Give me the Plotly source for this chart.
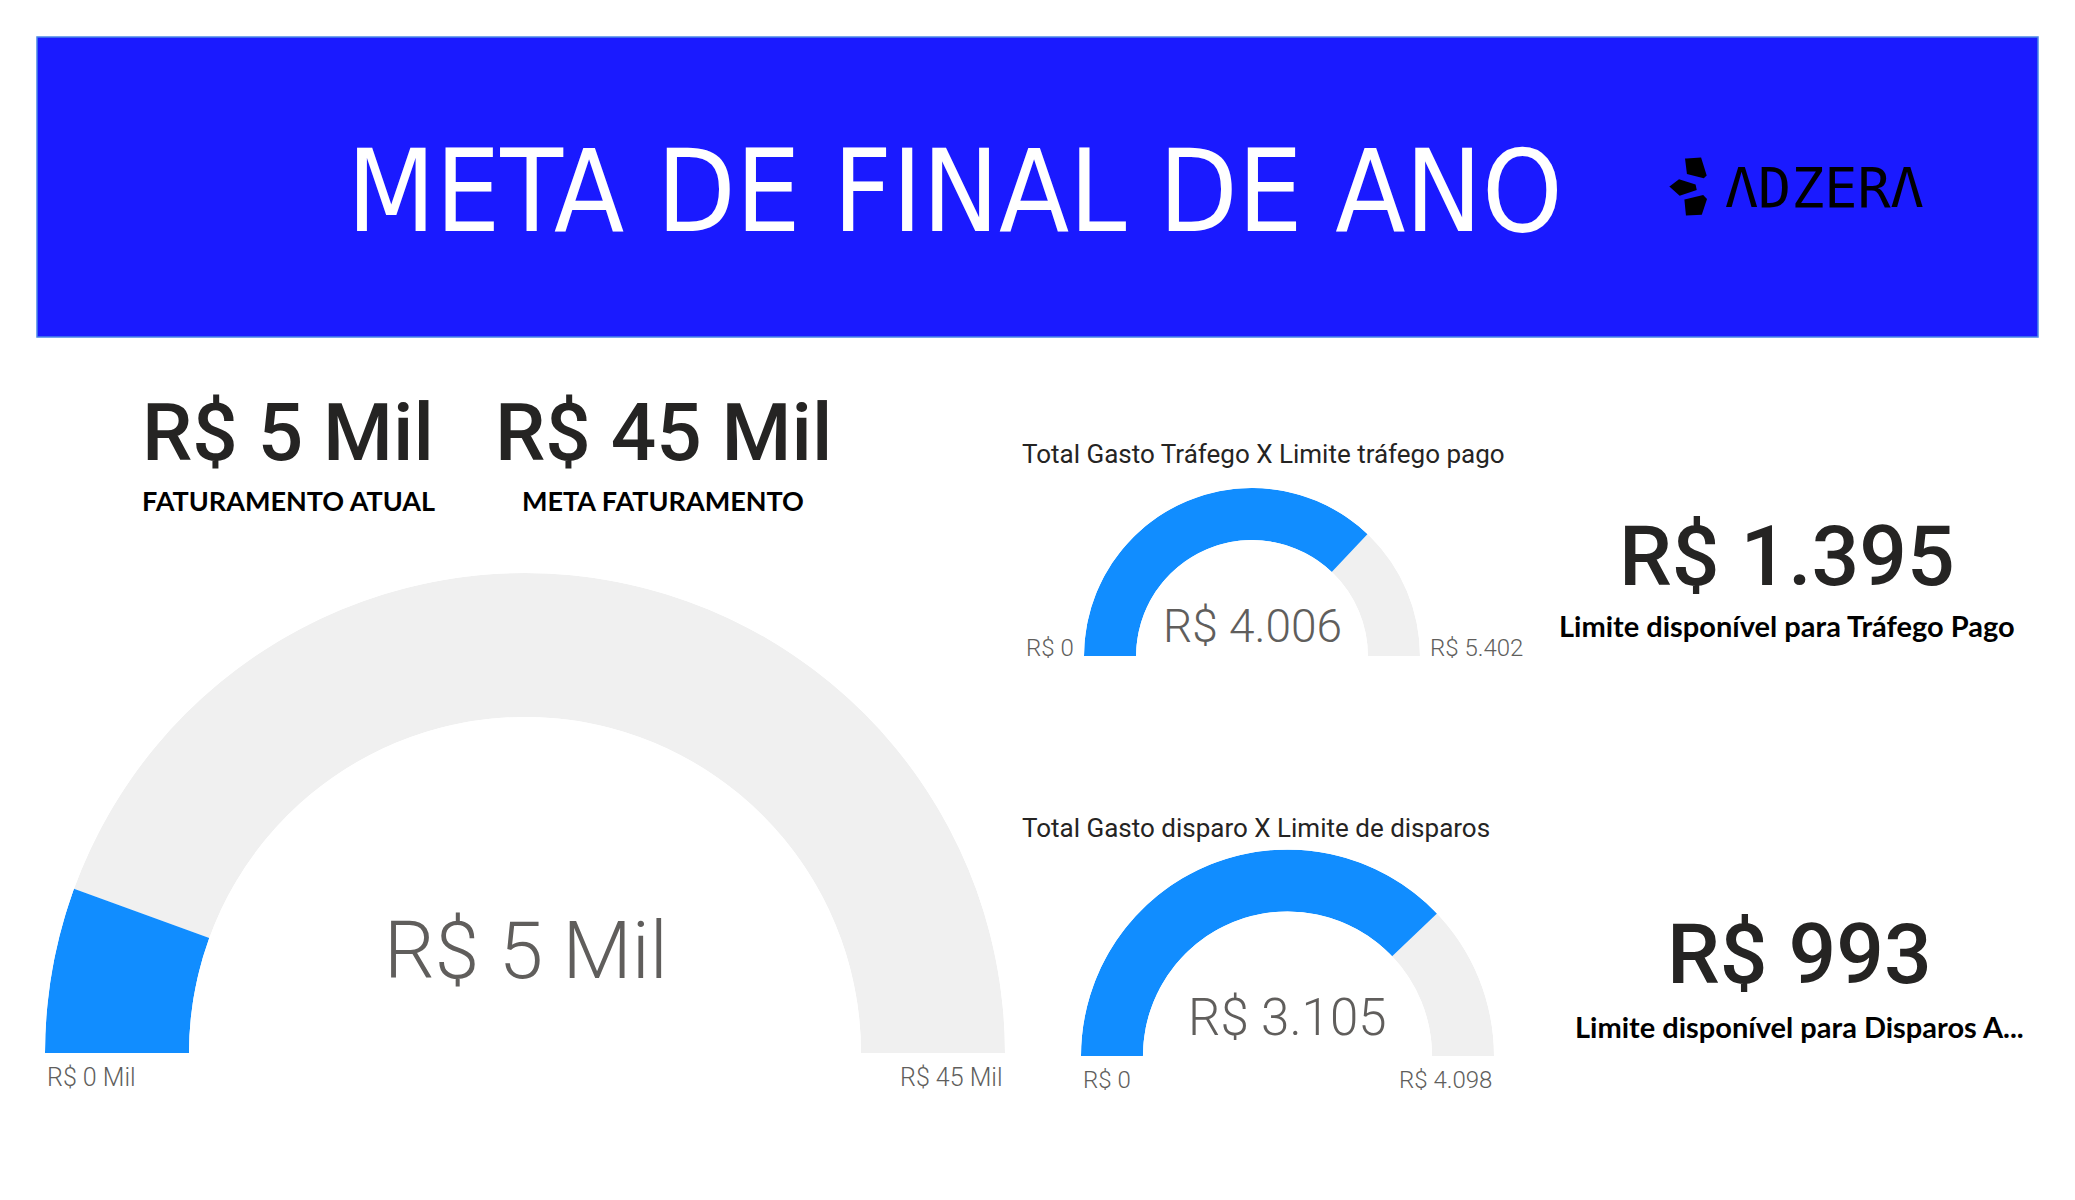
import plotly.graph_objects as go

W, H = 2075, 1200

# ---------------- data ----------------
header_title = "META DE FINAL DE ANO"
logo_text = "ΛDZERΛ"

kpi_labels = ["FATURAMENTO ATUAL", "META FATURAMENTO"]
kpi_values_mil = [5, 45]

gauge_titles = ["", "Total Gasto Tráfego X Limite tráfego pago",
                "Total Gasto disparo X Limite de disparos"]
gauge_values = [5, 4006, 3105]
gauge_min = [0, 0, 0]
gauge_max = [45, 5402, 4098]
gauge_suffix = [" Mil", "", ""]

side_labels = ["Limite disponível para Tráfego Pago",
               "Limite disponível para Disparos A..."]
side_values = [1395, 993]

# ---------------- style ----------------
BLUE = "#118DFF"
TRACK = "#F0F0F0"
HEADER = "#1A1AFF"
DARK = "#252423"
GRAY = "#605E5C"
NARROW = "Liberation Sans Narrow, DejaVu Sans Condensed, Roboto, sans-serif"
DIN = "Roboto, sans-serif"
BOLD = "Lato, Open Sans, sans-serif"


def fx(px):
    return px / W


def fy(py):
    return 1 - py / H


def brl(v, suffix=""):
    return "R$ " + f"{v:,.0f}".replace(",", ".") + suffix


fig = go.Figure()
annotations = []
shapes = []


def txt(s, x, y, size, color, family, xanchor="center", yanchor="middle", weight="normal"):
    annotations.append(dict(text=s, x=fx(x), y=fy(y), xref="paper", yref="paper",
                            xanchor=xanchor, yanchor=yanchor, showarrow=False,
                            font=dict(size=size, color=color, family=family, weight=weight)))


# header
shapes.append(dict(type="rect", xref="paper", yref="paper", x0=fx(37), x1=fx(2038),
                   y0=fy(337), y1=fy(37), fillcolor=HEADER,
                   line=dict(color="#4A86E8", width=1.5), layer="below"))
txt(header_title, 955, 191, 114, "white", NARROW)

# logo icon
def path(pts):
    return "M " + " L ".join(f"{fx(a):.5f},{fy(b):.5f}" for a, b in pts) + " Z"

for pts in [
    [(1686.7, 160), (1700, 159), (1705, 175), (1703.3, 176.7), (1688.3, 172.7)],
    [(1671.7, 186.7), (1679.3, 181), (1694.3, 185.7), (1695, 189), (1680, 194)],
    [(1686, 200.7), (1702.7, 196.7), (1705.3, 199.3), (1700.7, 213.3), (1687.3, 214)],
]:
    shapes.append(dict(type="path", xref="paper", yref="paper", path=path(pts),
                       fillcolor="black", line=dict(color="black", width=3)))
txt(logo_text, 1723, 188, 55, "black", "DejaVu Sans Mono, monospace", xanchor="left")

# KPI top cards
kpi_x = [288, 663]
for i in range(2):
    txt(brl(kpi_values_mil[i], " Mil"), kpi_x[i], 433, 80, DARK, DIN, weight=500)
    txt(kpi_labels[i], kpi_x[i], 500, 27, "black", BOLD, weight="bold")

# gauges: (center x, baseline y, outer radius, hole)
geo = [(525, 1053, 480, 0.70), (1252, 656, 168, 0.69), (1287.5, 1056, 206.5, 0.70)]
polar_names = ["polar", "polar2", "polar3"]
layout_polars = {}
for i in range(3):
    cx, by, r, hole = geo[i]
    pname = polar_names[i]
    span = gauge_max[i] - gauge_min[i]
    a = 180.0 * (gauge_values[i] - gauge_min[i]) / span
    fig.add_trace(go.Barpolar(r=[1], theta=[(a + 180) / 2], width=[180 - a],
                              marker=dict(color=TRACK, line=dict(width=0)),
                              subplot=pname, hoverinfo="skip", showlegend=False))
    fig.add_trace(go.Barpolar(r=[1], theta=[a / 2], width=[a],
                              marker=dict(color=BLUE, line=dict(width=0)),
                              subplot=pname, hoverinfo="skip", showlegend=False))
    layout_polars[pname] = dict(
        domain=dict(x=[fx(cx - r), fx(cx + r)], y=[fy(by), fy(by - r)]),
        sector=[0, 180], hole=hole, bgcolor="rgba(0,0,0,0)",
        radialaxis=dict(visible=False, range=[0, 1], showgrid=False),
        angularaxis=dict(visible=False, rotation=180, direction="clockwise",
                         showgrid=False, showline=False),
    )

LIGHT = 300
# big gauge texts
txt(brl(gauge_values[0], gauge_suffix[0]), 526, 951, 80, GRAY, DIN, weight=LIGHT)
txt(brl(gauge_min[0], gauge_suffix[0]), 45, 1077, 25, GRAY, DIN, xanchor="left", weight=LIGHT)
txt(brl(gauge_max[0], gauge_suffix[0]), 1005, 1077, 25, GRAY, DIN, xanchor="right", weight=LIGHT)

# gauge 2 texts
txt(gauge_titles[1], 1020, 454, 26, DARK, DIN, xanchor="left")
txt(brl(gauge_values[1]), 1252, 626, 46, GRAY, DIN, weight=LIGHT)
txt(brl(gauge_min[1]), 1076, 648, 24, GRAY, DIN, xanchor="right", weight=LIGHT)
txt(brl(gauge_max[1]), 1428, 648, 24, GRAY, DIN, xanchor="left", weight=LIGHT)

# gauge 3 texts
txt(gauge_titles[2], 1020, 828, 26, DARK, DIN, xanchor="left")
txt(brl(gauge_values[2]), 1287, 1017, 51, GRAY, DIN, weight=LIGHT)
txt(brl(gauge_min[2]), 1081, 1080, 24, GRAY, DIN, xanchor="left", weight=LIGHT)
txt(brl(gauge_max[2]), 1494, 1080, 24, GRAY, DIN, xanchor="right", weight=LIGHT)

# side KPI cards
side_pos = [(1787, 556, 625), (1799, 955, 1026)]
for i in range(2):
    x, yv, yl = side_pos[i]
    txt(brl(side_values[i]), x, yv, 84, DARK, DIN, weight=500)
    txt(side_labels[i], x, yl, 29, "black", BOLD, weight="bold")

fig.update_layout(
    width=W, height=H, margin=dict(l=0, r=0, t=0, b=0),
    paper_bgcolor="white", plot_bgcolor="white",
    showlegend=False, annotations=annotations, shapes=shapes,
    **layout_polars,
)

fig.write_html("out.html", config={"displayModeBar": False})
